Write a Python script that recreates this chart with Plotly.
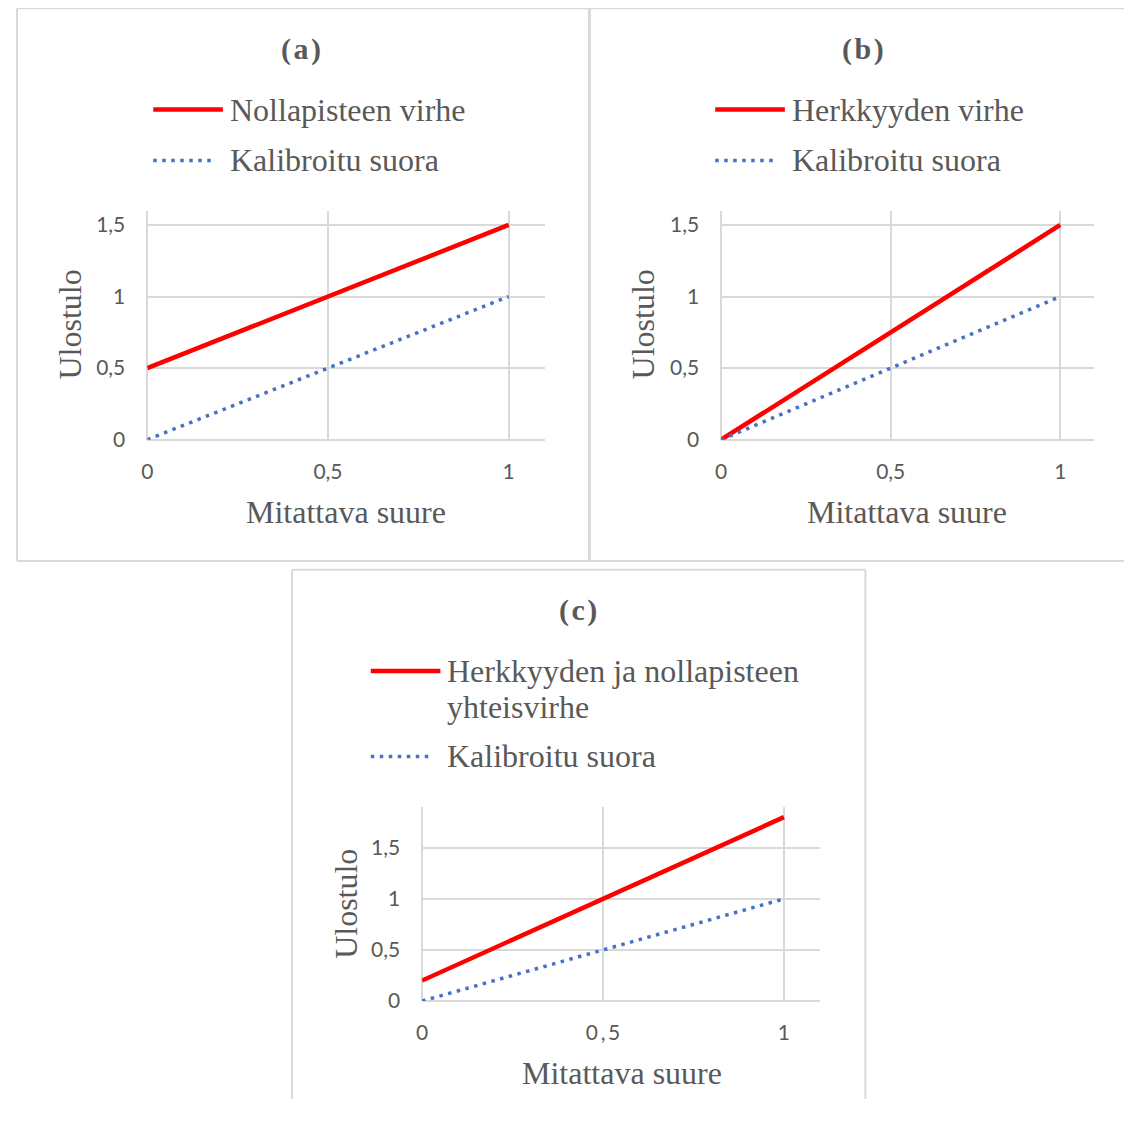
import plotly.graph_objects as go

# ---- data ----
x_vals = [0, 1]
calibrated = [0, 1]
zero_point_error = [0.5, 1.5]
sensitivity_error = [0, 1.5]
combined_error = [0.2, 1.8]

panel_titles = ["(\u200aa\u200a)", "(\u200ab\u200a)", "(\u200ac\u200a)"]
red_names = ["Nollapisteen virhe", "Herkkyyden virhe", "Herkkyyden ja nollapisteen yhteisvirhe"]
blue_name = "Kalibroitu suora"
x_title = "Mitattava suure"
y_title = "Ulostulo"
y_tick_vals = [0, 0.5, 1, 1.5]
y_tick_labels = ["0", "0,5", "1", "1,5"]
x_tick_vals = [0, 0.5, 1]
x_tick_labels_ab = ["0", "0,5", "1"]
x_tick_labels_c = ["0", "0\u2009,\u20095", "1"]

# page body has an 8px margin; keep the page inside the window (no overflow)
# and work in reference pixel coordinates
OFF = 8
W, H = 1116, 1102
def px(x):
    return (x - OFF) / W
def py(y):
    return 1 - (y - OFF) / H
XMAX = OFF + W      # right edge of the figure in page pixels
YMAX = OFF + H      # bottom edge of the figure in page pixels

RED = "#ff0000"
BLUE = "#4472c4"
GRID = "#d9d9d9"
TXT = "#595959"
SERIF = "Liberation Serif"
SANS = "Lato"

fig = go.Figure()
red_series = [zero_point_error, sensitivity_error, combined_error]
for i, ys in enumerate(red_series):
    suffix = "" if i == 0 else str(i + 1)
    fig.add_trace(go.Scatter(x=x_vals, y=ys, mode="lines", name=red_names[i],
                             line=dict(color=RED, width=4.5),
                             xaxis="x" + suffix, yaxis="y" + suffix, showlegend=False))
    fig.add_trace(go.Scatter(x=x_vals, y=calibrated, mode="lines", name=blue_name,
                             line=dict(color=BLUE, width=3.5, dash="3.5px,5.5px"),
                             xaxis="x" + suffix, yaxis="y" + suffix, showlegend=False))

def xax(domain, anchor, labels):
    return dict(domain=domain, anchor=anchor, range=[0, 1.1], tickvals=x_tick_vals, ticktext=labels,
                showgrid=True, gridcolor=GRID, gridwidth=1.6, zeroline=True, zerolinecolor=GRID,
                zerolinewidth=1.6, showline=False, ticks="", ticklabelstandoff=17,
                tickfont=dict(family=SANS, size=21, color=TXT), fixedrange=True)

def yax(domain, anchor, top):
    return dict(domain=domain, anchor=anchor, range=[0, top], tickvals=y_tick_vals, ticktext=y_tick_labels,
                showgrid=True, gridcolor=GRID, gridwidth=1.6, zeroline=True, zerolinecolor=GRID,
                zerolinewidth=1.6, showline=False, ticks="", ticklabelstandoff=21,
                tickfont=dict(family=SANS, size=21, color=TXT), fixedrange=True)

ab_y = [py(444), py(212.7)]
fig.update_layout(
    xaxis=xax([px(142), px(541.7)], "y", x_tick_labels_ab),
    yaxis=yax(ab_y, "x", 1.6),
    xaxis2=xax([px(719), px(1094)], "y2", x_tick_labels_ab),
    yaxis2=yax(ab_y, "x2", 1.6),
    xaxis3=xax([px(418.3), px(818.5)], "y3", x_tick_labels_c),
    yaxis3=yax([py(1011), py(815)], "x3", 1.9),
)

annotations = []
shapes = []

def ann(text, x, y, size=32, bold=False, xanchor="center", angle=0, family=SERIF):
    t = "<b>" + text + "</b>" if bold else text
    annotations.append(dict(text=t, x=px(x), y=py(y), xref="paper", yref="paper",
                            xanchor=xanchor, yanchor="middle", showarrow=False, textangle=angle,
                            font=dict(family=family, size=size, color=TXT)))

def seg(x0, y0, x1, y1, color=GRID, width=2, dash=None):
    ln = dict(color=color, width=width)
    if dash:
        ln["dash"] = dash
    shapes.append(dict(type="line", xref="paper", yref="paper", x0=px(x0), x1=px(x1),
                       y0=py(y0), y1=py(y1), line=ln))

# panel borders (kept inside the figure so the page never overflows)
# (a)
seg(11, 8.3, 586.5, 8.3); seg(11, 566.7, 586.5, 566.7)
seg(11, 8.3, 11, 566.7); seg(586.5, 8.3, 586.5, 566.7, width=3)
# (b) - right edge lies outside the window
seg(586.5, 8.3, XMAX, 8.3); seg(586.5, 566.7, XMAX, 566.7)
# (c) - bottom edge lies outside the window
seg(287.5, 575.5, 864, 575.5); seg(287.5, 575.5, 287.5, YMAX); seg(864, 575.5, 864, YMAX)

def legline(x0, x1, y, color, width, dash=None):
    seg(x0, y, x1, y, color=color, width=width, dash=dash)

# panel (a)
ann(panel_titles[0], 297, 49, size=30, bold=True)
legline(148, 218, 110.5, RED, 4.5)
ann(red_names[0], 223, 111, xanchor="left")
legline(148, 211, 162, BLUE, 3.5, "3.5px,5.5px")
ann(blue_name, 223, 162, xanchor="left")
ann(y_title, 64, 328, angle=-90)
ann(x_title, 342, 517)

# panel (b)
ann(panel_titles[1], 862, 49, size=30, bold=True)
legline(713, 783, 110.5, RED, 4.5)
ann(red_names[1], 788, 111, xanchor="left")
legline(713, 776, 162, BLUE, 3.5, "3.5px,5.5px")
ann(blue_name, 788, 162, xanchor="left")
ann(y_title, 640, 328, angle=-90)
ann(x_title, 906, 517)

# panel (c)
ann(panel_titles[2], 575, 616, size=30, bold=True)
legline(366.7, 436.7, 677.7, RED, 4.5)
words = red_names[2].split(" ")
ann(" ".join(words[:3]), 441, 678, xanchor="left")
ann(words[3], 441, 714, xanchor="left")
legline(366.7, 428, 764, BLUE, 3.5, "3.5px,5.5px")
ann(blue_name, 441, 764, xanchor="left")
ann(y_title, 341.7, 913, angle=-90)
ann(x_title, 619, 1084)

fig.update_layout(width=W, height=H, margin=dict(l=0, r=0, t=0, b=0),
                  paper_bgcolor="white", plot_bgcolor="white", showlegend=False,
                  annotations=annotations, shapes=shapes)

fig.write_html("out.html")
